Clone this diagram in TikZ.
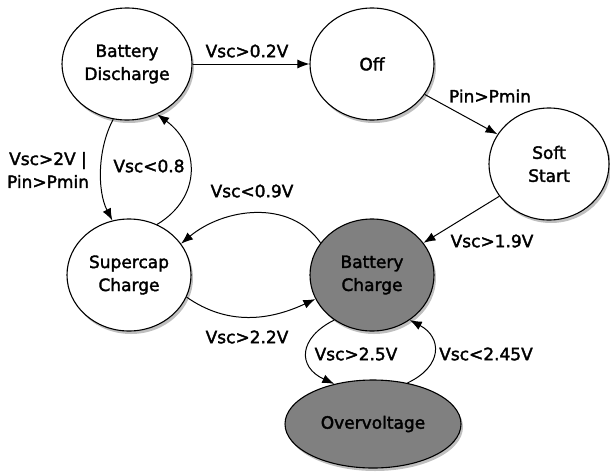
\documentclass[tikz,border=0pt]{standalone}
\usepackage{fontspec}
\setmainfont[FakeBold=2]{DejaVu Sans}
\usetikzlibrary{shapes.geometric,arrows.meta,shadows}
\begin{document}
\begin{tikzpicture}[x=1pt,y=-1pt,
  state/.style={ellipse,draw=black,line width=1.1pt,fill=white,inner sep=0pt,
    align=center,font=\fontsize{17}{23}\selectfont,
    drop shadow={opacity=0.5,shadow xshift=2pt,shadow yshift=-3pt}},
  dark/.style={state,fill=black!50},
  lbl/.style={font=\fontsize{17}{23}\selectfont,align=center,inner sep=0pt},
  tr/.style={draw=black,line width=1pt,-{Latex[length=12pt,width=9pt]}}]
\useasboundingbox (0,0) rectangle (610,474);
\node[state,minimum width=130pt,minimum height=112pt] (bd) at (127,64) {Battery\\Discharge};
\node[state,minimum width=124pt,minimum height=112pt] (off) at (372,64) {Off};
\node[state,minimum width=120pt,minimum height=112pt] (ss) at (549,164) {Soft\\Start};
\node[state,minimum width=124pt,minimum height=112pt] (sc) at (129,275) {Supercap\\Charge};
\node[dark,minimum width=124pt,minimum height=112pt] (bc) at (372,275) {Battery\\Charge};
\node[dark,minimum width=176pt,minimum height=88pt] (ov) at (373,424) {Overvoltage};

\draw[tr] (bd.east) -- (off.west);
\draw[tr] (off.-30) -- (ss.150);
\draw[tr] (ss.213) -- (bc.32);
\draw[tr] (bd.256) .. controls +(-16,30) and +(-15,-29) .. (sc.107);
\draw[tr] (sc.61) .. controls +(45,-27) and +(43,32) .. (bd.301);
\draw[tr] (bc.148) to[out=125,in=40] (sc.31);
\draw[tr] (sc.-21) to[out=-35,in=205] (bc.203);
\draw[tr] (bc.230) .. controls +(-36,18) and +(-37,-17) .. (ov.134);
\draw[tr] (ov.50) .. controls +(36,-17) and +(32,17) .. (bc.310);

\node[lbl] (l1) at (247,51) {Vsc>0.2V};
\node[lbl] (l2) at (490,96) {Pin>Pmin};
\node[lbl] (l3) at (492,241) {Vsc>1.9V};
\node[lbl] (l4) at (48,170) {Vsc>2V |\\Pin>Pmin};
\node[lbl] (l5) at (149,166) {Vsc<0.8};
\node[lbl] (l6) at (252,191) {Vsc<0.9V};
\node[lbl] (l7) at (247,337) {Vsc>2.2V};
\node[lbl] (l8) at (356,354) {Vsc>2.5V};
\node[lbl] (l9) at (486,354) {Vsc<2.45V};
\end{tikzpicture}
\end{document}
